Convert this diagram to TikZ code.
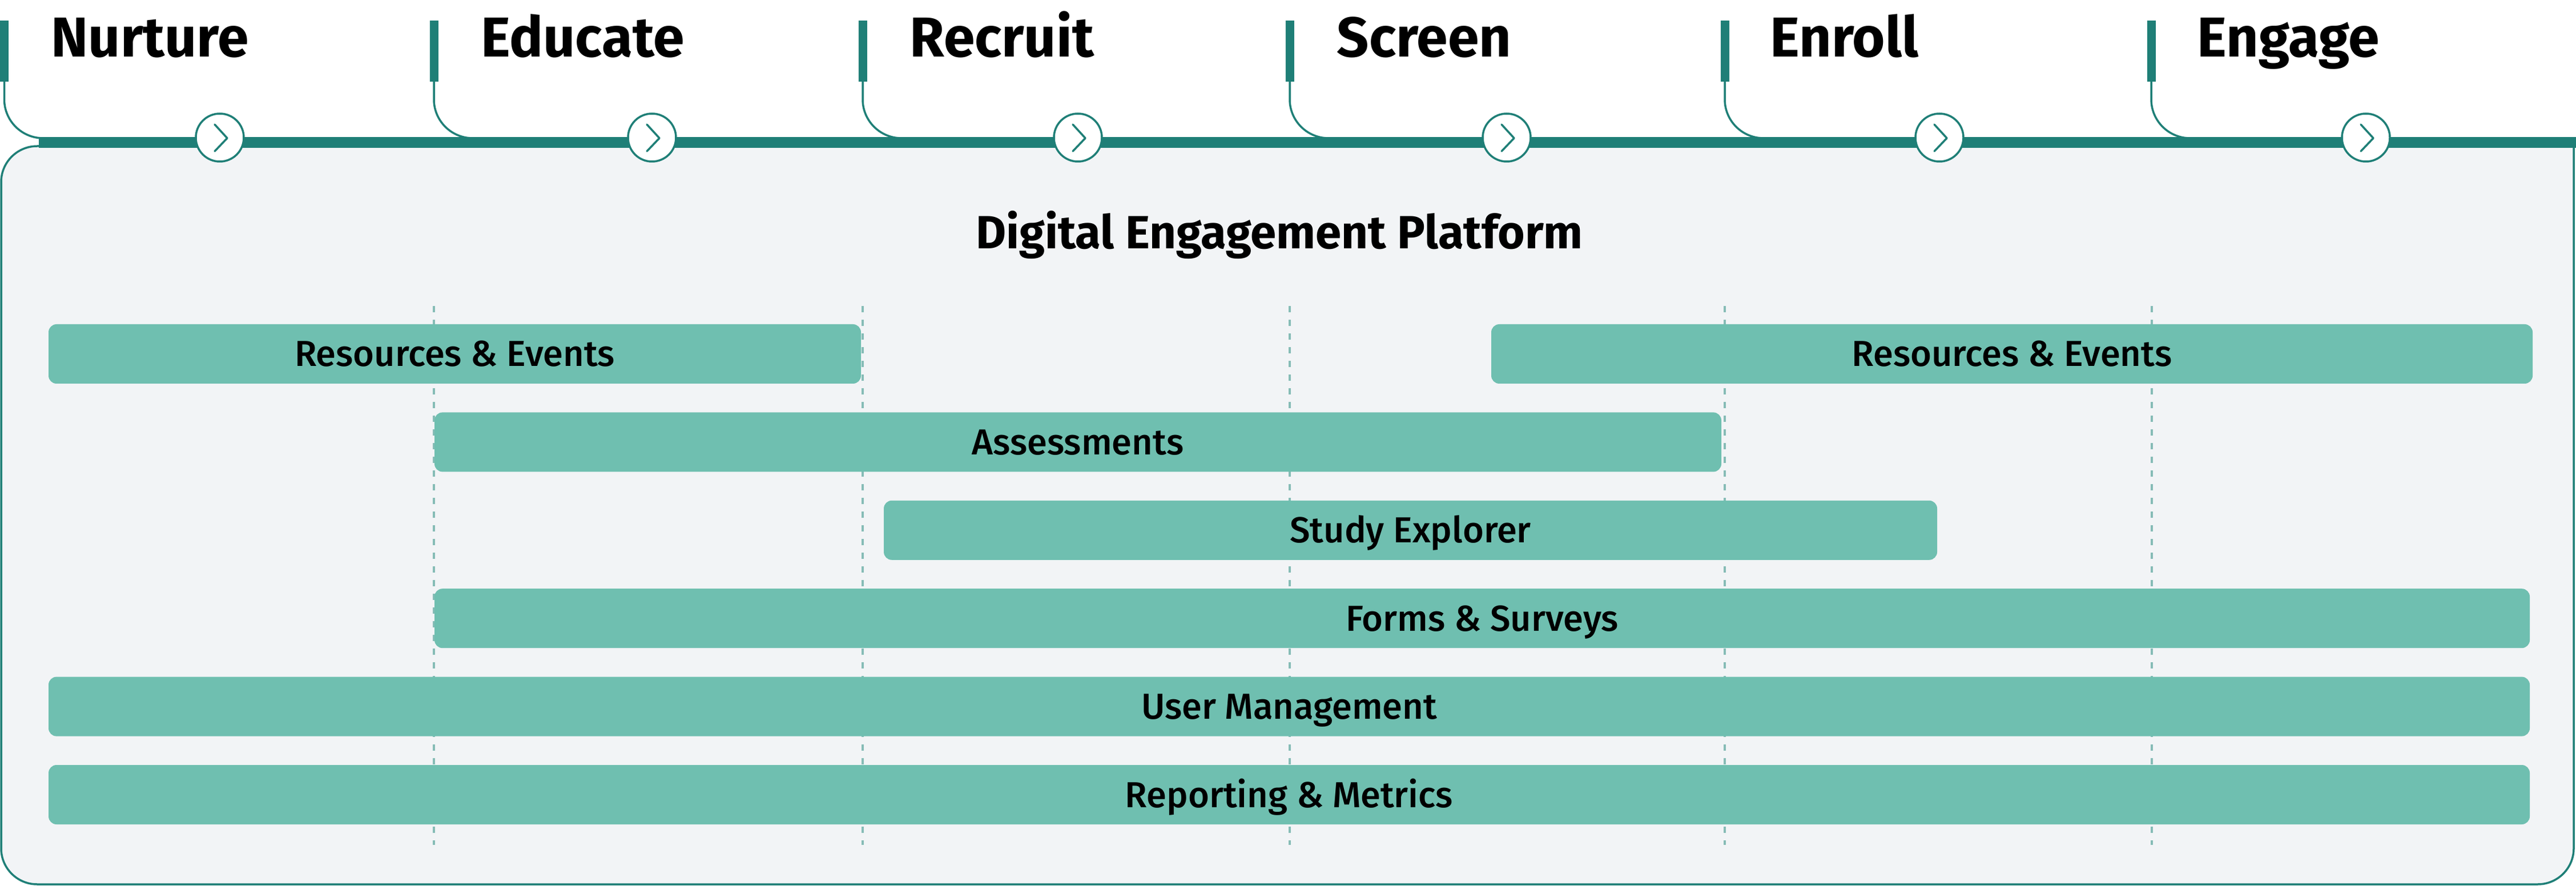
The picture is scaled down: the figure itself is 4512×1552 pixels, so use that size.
\documentclass[tikz,border=0pt]{standalone}
\usepackage{fontspec}
\setmainfont{Fira Sans}
\newfontfamily\barfont{Fira Sans Medium}
\usetikzlibrary{calc}
\definecolor{tealdark}{HTML}{1F7F77}
\definecolor{barfill}{HTML}{6FBFB0}
\definecolor{panelfill}{HTML}{F2F4F6}
\definecolor{dashcol}{HTML}{86BCB6}
\begin{document}
\begin{tikzpicture}[x=0.1mm,y=-0.1mm,
  barbox/.style={fill=barfill, rounded corners=1.4mm, minimum height=10.4mm, inner sep=0pt, text height=4.4mm, text depth=0pt, font=\barfont\fontsize{18pt}{20pt}\selectfont},
  phase/.style={anchor=base west, inner sep=0pt, font=\bfseries\fontsize{28pt}{30pt}\selectfont},
  titlestyle/.style={anchor=base, inner sep=0pt, font=\bfseries\fontsize{23.2pt}{26pt}\selectfont},
  marker/.style={tealdark, line width=1.5mm},
  thinline/.style={tealdark, line width=0.35mm},
  stepcirc/.style={circle, draw=tealdark, fill=white, line width=0.35mm, minimum size=8.4mm, inner sep=0pt},
  chev/.style={tealdark, line width=0.35mm, line cap=round, line join=round},
  guide/.style={dashcol, line width=0.42mm, dash pattern=on 1.15mm off 1.25mm}
]
\useasboundingbox (0,0) rectangle (4512,1552);
% panel
\fill[panelfill, rounded corners=6.3mm] (4508,256) -- (2,256) -- (2,1549) -- (4508,1549) -- cycle;
\fill[panelfill] (2000,256) rectangle (4508,900);
\draw[thinline, rounded corners=6.3mm] (300,256) -- (2,256) -- (2,1549) -- (4508,1549) -- (4508,245);
% guides
\foreach \gx in {760,1511,2259,3021,3769}
  \draw[guide] (\gx,536) -- (\gx,1480);
% bars
\node[barbox, minimum width=142.3mm] (re1) at (796.5,620) {Resources \& Events};
\node[barbox, minimum width=182.4mm] (re2) at (3524,620) {Resources \& Events};
\node[barbox, minimum width=225.4mm] (as) at (1888,774.4) {Assessments};
\node[barbox, minimum width=184.5mm] (se) at (2470.5,928.8) {Study Explorer};
\node[barbox, minimum width=367.0mm] (fs) at (2596,1083.2) {Forms \& Surveys};
\node[barbox, minimum width=434.6mm] (um) at (2258,1237.6) {User Management};
\node[barbox, minimum width=434.6mm] (rm) at (2258,1392) {Reporting \& Metrics};
% title
\node[titlestyle] (title) at (2241,436) {Digital Engagement Platform};
% thin connectors from markers
\foreach \mx in {7.5,760,1511,2259,3021,3768}
  \draw[thinline, rounded corners=6.8mm] (\mx,140) -- (\mx,242) -- (\mx+200,242);
% thick timeline bar
\draw[tealdark, line width=1.9mm] (68,249.5) -- (4512,249.5);
% markers
\foreach \mx in {7.5,760,1511,2259,3021,3768}
  \draw[marker] (\mx,36) -- (\mx,143);
% phase labels
\node[phase] (p1) at (89,100) {Nurture};
\node[phase] (p2) at (842,100) {Educate};
\node[phase] (p3) at (1593,100) {Recruit};
\node[phase] (p4) at (2341,100) {Screen};
\node[phase] (p5) at (3100,100) {Enroll};
\node[phase] (p6) at (3848,100) {Engage};
% step circles with chevrons
\foreach \cx/\nm in {385/c1,1142/c2,1888/c3,2639/c4,3397/c5,4144/c6}{
  \node[stepcirc] (\nm) at (\cx,241) {};
  \draw[chev] ([shift={(-9,-23)}]\nm.center) -- ([shift={(13,1)}]\nm.center) -- ([shift={(-9,24)}]\nm.center);
}
\end{tikzpicture}
\end{document}
